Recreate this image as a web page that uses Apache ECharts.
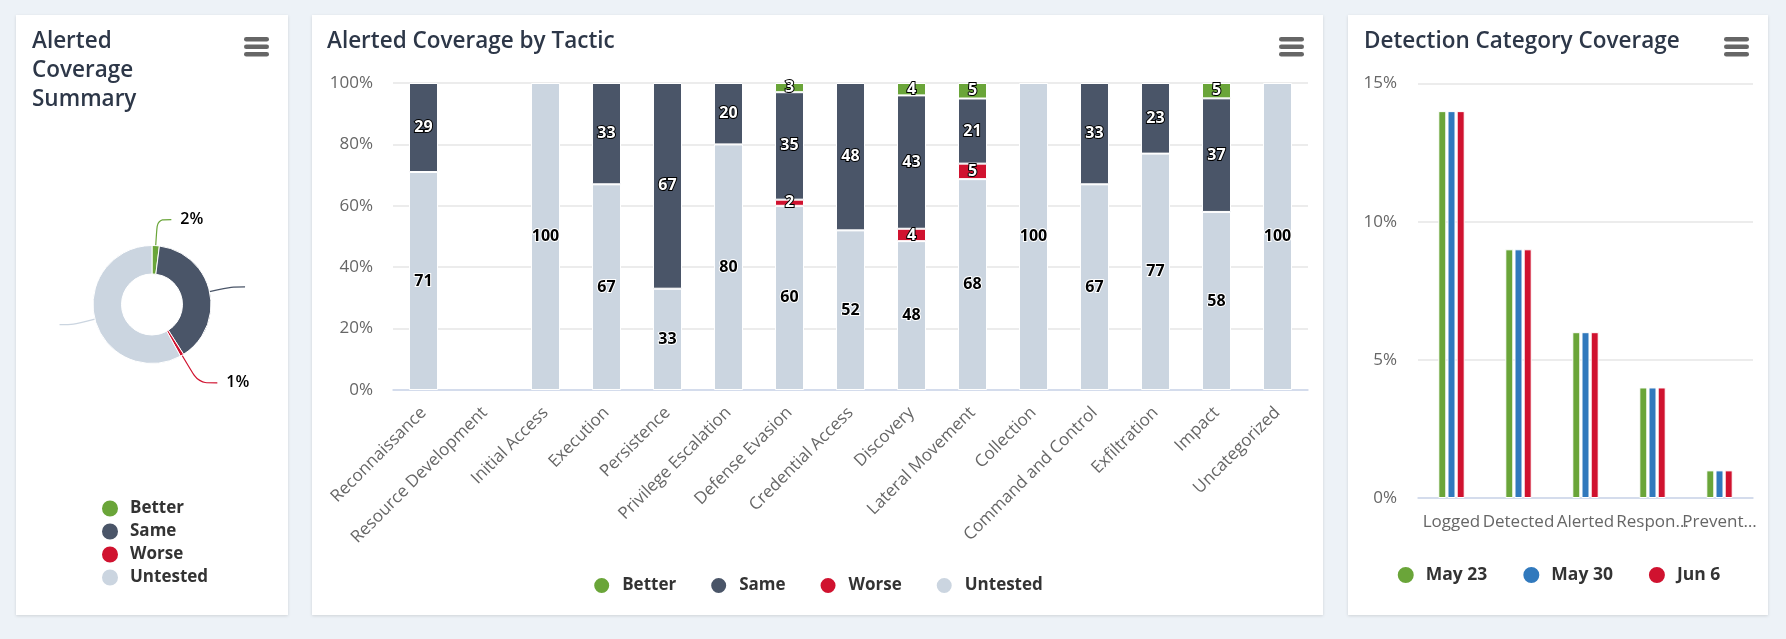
<!DOCTYPE html>
<html><head><meta charset="utf-8">
<script src="https://cdn.jsdelivr.net/npm/echarts@6/dist/echarts.min.js"></script>
<style>
html,body{margin:0;padding:0;background:#edf2f7;width:1786px;height:639px;overflow:hidden;}
.panel{position:absolute;top:15px;height:600px;background:#fff;box-shadow:0 1px 3px rgba(0,0,0,0.13);}
</style></head><body>
<div id="p1" class="panel" style="left:16px;width:272px"></div>
<div id="p2" class="panel" style="left:312px;width:1011px"></div>
<div id="p3" class="panel" style="left:1348px;width:420px"></div>
<script>
// ---- data ----
const statuses = ['Better', 'Same', 'Worse', 'Untested'];
const statusColors = ['#6aa539', '#4a5568', '#d0122f', '#cbd5e0'];
const summaryValues = [2, 39, 1, 58];
const summaryShownLabels = [true, false, true, false];

const tactics = ['Reconnaissance', 'Resource Development', 'Initial Access', 'Execution', 'Persistence',
  'Privilege Escalation', 'Defense Evasion', 'Credential Access', 'Discovery', 'Lateral Movement',
  'Collection', 'Command and Control', 'Exfiltration', 'Impact', 'Uncategorized'];
const betterValues   = [0, 0, 0, 0, 0, 0, 3, 0, 4, 5, 0, 0, 0, 5, 0];
const sameValues     = [29, 0, 0, 33, 67, 20, 35, 48, 43, 21, 0, 33, 23, 37, 0];
const worseValues    = [0, 0, 0, 0, 0, 0, 2, 0, 4, 5, 0, 0, 0, 0, 0];
const untestedValues = [71, 0, 100, 67, 33, 80, 60, 52, 48, 68, 100, 67, 77, 58, 100];
const percentTicks = [0, 20, 40, 60, 80, 100];

const detectionCategories = ['Logged', 'Detected', 'Alerted', 'Responded', 'Prevented'];
const dates = ['May 23', 'May 30', 'Jun 6'];
const dateColors = ['#6aa539', '#3179bd', '#d0122f'];
const may23Values = [14, 9, 6, 4, 1];
const may30Values = [14, 9, 6, 4, 1];
const jun6Values  = [14, 9, 6, 4, 1];
const detectionTicks = [0, 5, 10, 15];

// ---- shared styles ----
const FONT = '"Open Sans", "Noto Sans", sans-serif';
function menuIcon() {
  return [{
    type: 'group', right: 19, top: 22,
    children: [0, 1, 2].map(i => ({
      type: 'rect', shape: { x: 0, y: i * 7.5, width: 25, height: 4.5, r: 2.25 },
      style: { fill: '#666666' }
    }))
  }];
}
const titleStyle = { fontFamily: FONT, fontSize: 22.5, fontWeight: 600, color: '#2d3748' };
const legendText = { fontFamily: FONT, fontSize: 17, fontWeight: 'bold', color: '#333333', padding: [0, 0, 0, 6] };

// ---- panel 1: donut ----
const pieLineLengths = [[26, 14], [22, 14], [32, 19], [22, 14]];
const c1 = echarts.init(document.getElementById('p1'));
c1.setOption({
  animation: false,
  title: { text: 'Alerted\nCoverage\nSummary', left: 11, top: 7,
    textStyle: Object.assign({}, titleStyle, { lineHeight: 29 }) },
  graphic: menuIcon(),
  legend: {
    orient: 'vertical', left: 79, top: 478.5, itemGap: 3,
    icon: 'circle', itemWidth: 18, itemHeight: 18,
    data: statuses, textStyle: legendText
  },
  color: statusColors,
  series: [{
    type: 'pie', center: [136, 289.5], radius: [30.5, 59],
    startAngle: 90, clockwise: true,
    itemStyle: { borderColor: '#fff', borderWidth: 1 },
    label: {
      show: true, position: 'outside', color: '#000', fontFamily: FONT, fontSize: 16, fontWeight: 600,
      formatter: p => summaryShownLabels[p.dataIndex] ? p.value + '%' : '',
      distanceToLabelLine: 9
    },
    labelLine: { show: true, smooth: true, lineStyle: { width: 1.2 } },
    data: statuses.map((s, i) => ({
      name: s, value: summaryValues[i],
      labelLine: { length: pieLineLengths[i][0], length2: pieLineLengths[i][1] }
    }))
  }]
});

// ---- panel 2: stacked percent bars ----
const totals = tactics.map((t, i) => betterValues[i] + sameValues[i] + worseValues[i] + untestedValues[i]);
const stackOrder = [
  { name: 'Untested', vals: untestedValues, color: statusColors[3], light: true },
  { name: 'Worse', vals: worseValues, color: statusColors[2] },
  { name: 'Same', vals: sameValues, color: statusColors[1] },
  { name: 'Better', vals: betterValues, color: statusColors[0] }
];
const c2 = echarts.init(document.getElementById('p2'));
c2.setOption({
  animation: false,
  title: { text: 'Alerted Coverage by Tactic', left: 10, top: 10, textStyle: titleStyle },
  graphic: menuIcon(),
  legend: {
    bottom: 15, left: 'center', itemGap: 33, icon: 'circle', itemWidth: 17, itemHeight: 17,
    data: statuses, textStyle: Object.assign({}, legendText, { padding: [0, 0, 0, 7] })
  },
  grid: { left: 81, right: 15, top: 68, bottom: 225, containLabel: false },
  xAxis: {
    type: 'category', data: tactics,
    axisLine: { lineStyle: { color: '#ccd6eb', width: 1.5 } },
    axisTick: { show: false },
    axisLabel: { interval: 0, rotate: 45, margin: 20, color: '#666666', fontFamily: FONT, fontSize: 17 }
  },
  yAxis: {
    type: 'value', min: percentTicks[0], max: percentTicks[percentTicks.length - 1], interval: 20,
    axisLabel: { formatter: '{value}%', color: '#666666', fontFamily: FONT, fontSize: 17, margin: 20 },
    splitLine: { lineStyle: { color: '#e6e6e6', width: 1.5 } },
    axisLine: { show: false }, axisTick: { show: false }
  },
  series: stackOrder.map(s => ({
    type: 'bar', name: s.name, stack: 'total', barWidth: 29,
    itemStyle: { color: s.color, borderColor: '#ffffff', borderWidth: 1 },
    label: {
      show: true, position: 'inside', fontFamily: FONT, fontSize: 16, fontWeight: 'bold',
      color: s.light ? '#000000' : '#ffffff',
      textBorderColor: s.light ? '#ffffff' : '#000000', textBorderWidth: 2,
      formatter: p => (s.vals[p.dataIndex] ? String(s.vals[p.dataIndex]) : '')
    },
    data: s.vals.map((v, i) => (v && totals[i] ? v / totals[i] * 100 : null))
  }))
});

// ---- panel 3: grouped bars ----
const dateSeries = [may23Values, may30Values, jun6Values];
const c3 = echarts.init(document.getElementById('p3'));
c3.setOption({
  animation: false,
  title: { text: 'Detection Category Coverage', left: 11, top: 10, textStyle: titleStyle },
  graphic: menuIcon(),
  legend: {
    top: 545, left: 'center', itemGap: 34, icon: 'circle', itemWidth: 18, itemHeight: 18,
    data: dates, textStyle: Object.assign({}, legendText, { fontSize: 17.5 })
  },
  grid: { left: 70, right: 15, top: 68.5, bottom: 117, containLabel: false },
  xAxis: {
    type: 'category', data: detectionCategories,
    axisLine: { lineStyle: { color: '#ccd6eb', width: 1.5 } },
    axisTick: { show: false },
    axisLabel: { interval: 0, margin: 16, color: '#666666', fontFamily: FONT, fontSize: 17,
      width: 77, overflow: 'truncate', ellipsis: '\u2026' }
  },
  yAxis: {
    type: 'value', min: detectionTicks[0], max: detectionTicks[detectionTicks.length - 1], interval: 5,
    axisLabel: { formatter: '{value}%', color: '#666666', fontFamily: FONT, fontSize: 17, margin: 21 },
    splitLine: { lineStyle: { color: '#e6e6e6', width: 1.5 } },
    axisLine: { show: false }, axisTick: { show: false }
  },
  series: dates.map((d, k) => ({
    type: 'bar', name: d, barWidth: 8, barGap: '15%',
    itemStyle: { color: dateColors[k], borderColor: '#ffffff', borderWidth: 1 },
    data: dateSeries[k]
  }))
});
</script>
</body></html>
